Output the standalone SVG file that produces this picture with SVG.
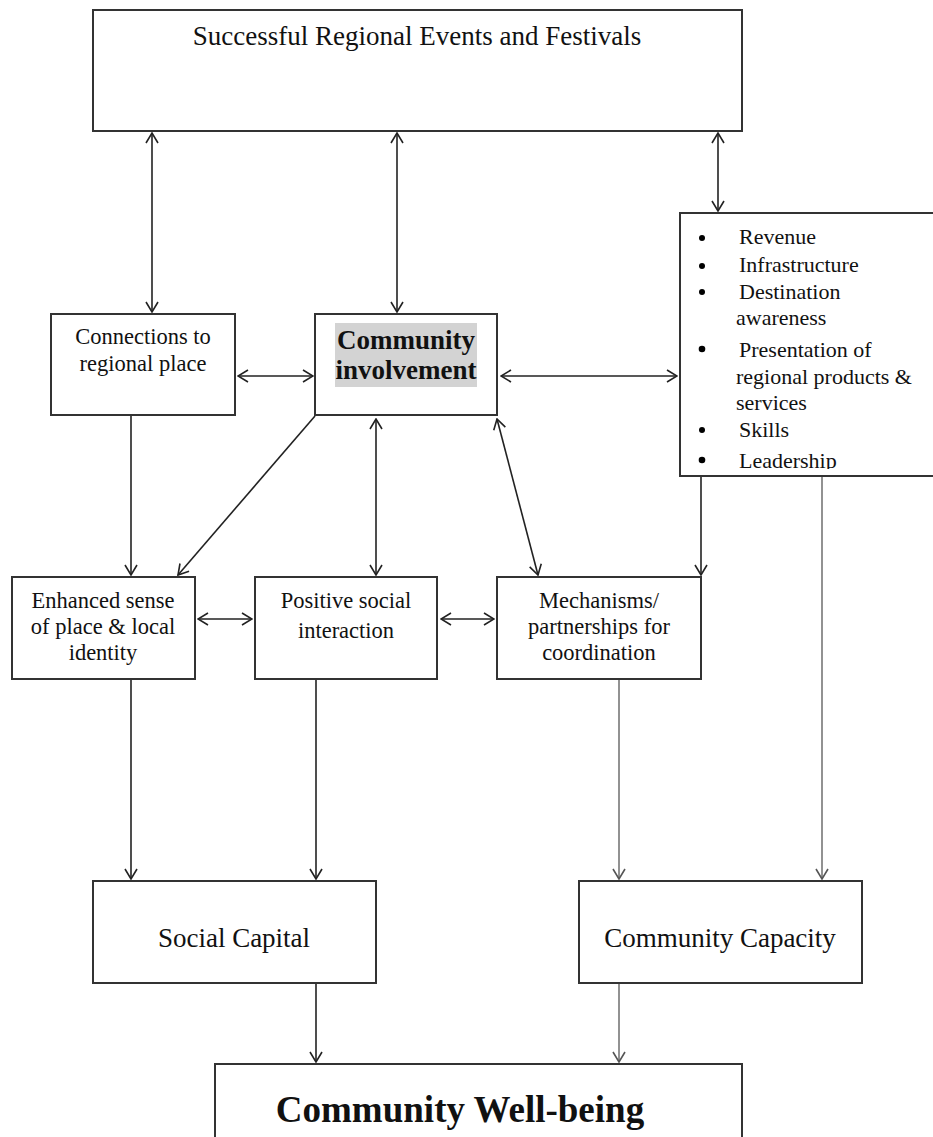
<svg xmlns="http://www.w3.org/2000/svg" width="933" height="1137" viewBox="0 0 933 1137">
<style>
.box{fill:#fff;stroke:#333;stroke-width:2}
.t{font-family:"Liberation Serif","Times New Roman",serif;fill:#111;text-anchor:middle}
.s18{font-size:22.5px}
.s22{font-size:27px}
.tl{font-family:"Liberation Serif","Times New Roman",serif;fill:#111;font-size:22px}
.c{stroke:#222;stroke-width:1.6;fill:none}
.g{stroke:#777;stroke-width:1.6;fill:none}
</style>
<defs>
<marker id="ah" viewBox="0 0 12 14" refX="11" refY="7" markerWidth="12" markerHeight="14" markerUnits="userSpaceOnUse" orient="auto-start-reverse">
<polyline points="1,1 11,7 1,13" fill="none" stroke="#222" stroke-width="1.6"/>
</marker>
<marker id="ahg" viewBox="0 0 12 14" refX="11" refY="7" markerWidth="12" markerHeight="14" markerUnits="userSpaceOnUse" orient="auto-start-reverse">
<polyline points="1,1 11,7 1,13" fill="none" stroke="#555" stroke-width="1.6"/>
</marker>
</defs>
<rect width="933" height="1137" fill="#fff"/>
<g id="connectors">
<line class="c" x1="152" y1="133" x2="152" y2="312" marker-start="url(#ah)" marker-end="url(#ah)"/>
<line class="c" x1="397" y1="133" x2="397" y2="312" marker-start="url(#ah)" marker-end="url(#ah)"/>
<line class="c" x1="718" y1="133" x2="718" y2="211" marker-start="url(#ah)" marker-end="url(#ah)"/>
<line class="c" x1="238" y1="376" x2="313" y2="376" marker-start="url(#ah)" marker-end="url(#ah)"/>
<line class="c" x1="501" y1="376" x2="677" y2="376" marker-start="url(#ah)" marker-end="url(#ah)"/>
<line class="c" x1="131" y1="416" x2="131" y2="575" marker-end="url(#ah)"/>
<line class="c" x1="315" y1="416" x2="178" y2="575" marker-end="url(#ah)"/>
<line class="c" x1="376" y1="419" x2="376" y2="575" marker-start="url(#ah)" marker-end="url(#ah)"/>
<line class="c" x1="497" y1="419" x2="538" y2="575" marker-start="url(#ah)" marker-end="url(#ah)"/>
<line class="c" x1="701" y1="477" x2="701" y2="575" marker-end="url(#ah)"/>
<line class="g" x1="822" y1="477" x2="822" y2="879" marker-end="url(#ahg)"/>
<line class="c" x1="198" y1="619" x2="252" y2="619" marker-start="url(#ah)" marker-end="url(#ah)"/>
<line class="c" x1="441" y1="619" x2="494" y2="619" marker-start="url(#ah)" marker-end="url(#ah)"/>
<line class="c" x1="131" y1="680" x2="131" y2="879" marker-end="url(#ah)"/>
<line class="c" x1="316" y1="680" x2="316" y2="879" marker-end="url(#ah)"/>
<line class="g" x1="619" y1="680" x2="619" y2="879" marker-end="url(#ahg)"/>
<line class="c" x1="316" y1="984" x2="316" y2="1062" marker-end="url(#ah)"/>
<line class="g" x1="619" y1="984" x2="619" y2="1062" marker-end="url(#ahg)"/>
</g>
<g id="events">
<rect class="box" x="93" y="10" width="649" height="121"/>
<text class="t s22" x="417" y="45">Successful Regional Events and Festivals</text>
</g>
<g id="connections">
<rect class="box" x="51" y="314" width="184" height="101"/>
<text class="t s18" x="143" y="344">Connections to</text>
<text class="t s18" x="143" y="371">regional place</text>
</g>
<g id="involvement">
<rect class="box" x="315" y="314" width="182" height="101"/>
<rect x="335" y="323" width="142" height="64" fill="#d3d3d3"/>
<text class="t s22" x="406" y="349" font-weight="bold">Community</text>
<text class="t s22" x="406" y="379" font-weight="bold">involvement</text>
</g>
<g id="outcomes">
<rect class="box" x="680" y="213" width="260" height="263"/>
<g fill="#000">
<circle cx="702" cy="238" r="3"/>
<circle cx="702" cy="266" r="3"/>
<circle cx="702" cy="292" r="3"/>
<circle cx="702" cy="349" r="3.3"/>
<circle cx="702" cy="430" r="3"/>
<circle cx="702" cy="460" r="3.3"/>
</g>
<text class="tl" x="739" y="244">Revenue</text>
<text class="tl" x="739" y="272">Infrastructure</text>
<text class="tl" x="739" y="299">Destination</text>
<text class="tl" x="736" y="325">awareness</text>
<text class="tl" x="739" y="357">Presentation of</text>
<text class="tl" x="736" y="384">regional products &amp;</text>
<text class="tl" x="736" y="410">services</text>
<text class="tl" x="739" y="437">Skills</text>
<text class="tl" x="739" y="468">Leadership</text>
<rect x="681" y="469" width="258" height="7" fill="#fff"/>
<line x1="680" y1="476" x2="940" y2="476" stroke="#333" stroke-width="2"/>
</g>
<g id="sense">
<rect class="box" x="12" y="577" width="183" height="102"/>
<text class="t s18" x="103" y="608">Enhanced sense</text>
<text class="t s18" x="103" y="634">of place &amp; local</text>
<text class="t s18" x="103" y="660">identity</text>
</g>
<g id="interaction">
<rect class="box" x="255" y="577" width="182" height="102"/>
<text class="t s18" x="346" y="608">Positive social</text>
<text class="t s18" x="346" y="638">interaction</text>
</g>
<g id="mechanisms">
<rect class="box" x="497" y="577" width="204" height="102"/>
<text class="t s18" x="599" y="608">Mechanisms/</text>
<text class="t s18" x="599" y="634">partnerships for</text>
<text class="t s18" x="599" y="660">coordination</text>
</g>
<g id="social">
<rect class="box" x="93" y="881" width="283" height="102"/>
<text class="t s22" x="234" y="947">Social Capital</text>
</g>
<g id="capacity">
<rect class="box" x="579" y="881" width="283" height="102"/>
<text class="t s22" x="720" y="947">Community Capacity</text>
</g>
<g id="wellbeing">
<rect class="box" x="215" y="1064" width="527" height="90"/>
<text class="t" x="460" y="1122" font-size="37" font-weight="bold">Community Well-being</text>
</g>
</svg>
